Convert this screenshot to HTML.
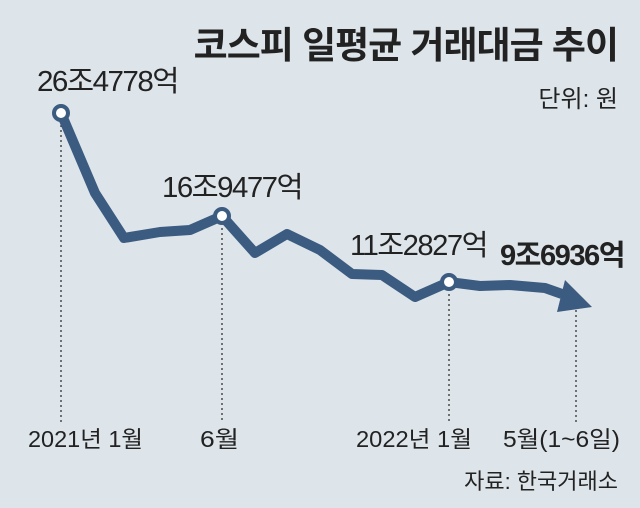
<!DOCTYPE html>
<html><head><meta charset="utf-8"><style>
body{margin:0;background:#dde4ea;}
svg{display:block}
text{font-family:"Liberation Sans","Noto Sans CJK KR",sans-serif;fill:#222}
</style></head><body>
<svg width="640" height="508" viewBox="0 0 640 508">
<rect width="640" height="508" fill="#dde4ea"/>
<text x="618" y="58" text-anchor="end" font-size="37" font-weight="bold" letter-spacing="-1">코스피 일평균 거래대금 추이</text>
<text x="618" y="107" text-anchor="end" font-size="24">단위: 원</text>
<g stroke="#333" stroke-width="1.3" stroke-dasharray="2,3">
<line x1="61" y1="125" x2="61" y2="422"/>
<line x1="222" y1="228" x2="222" y2="422"/>
<line x1="449" y1="294" x2="449" y2="422"/>
<line x1="576" y1="310" x2="576" y2="422"/>
</g>
<polyline points="61,113 95,193 124,238 160,232 190,230 222,216 255,253 287,234 320,250 352,274 382,275 415,297 449,282 480,286 510,285 545,288 562,294" fill="none" stroke="#3b5b80" stroke-width="10" stroke-linejoin="round"/>
<polygon points="565,280 592,307 557,312" fill="#3b5b80"/>
<g fill="#fff" stroke="#3b5b80" stroke-width="4">
<circle cx="61" cy="113" r="7"/><circle cx="222" cy="216" r="7"/><circle cx="449" cy="282" r="7"/>
</g>
<g font-size="29" letter-spacing="-1.5">
<text x="37" y="91" textLength="141" lengthAdjust="spacingAndGlyphs">26조4778억</text>
<text x="162" y="197" textLength="140" lengthAdjust="spacingAndGlyphs">16조9477억</text>
<text x="350" y="255" textLength="137" lengthAdjust="spacingAndGlyphs">11조2827억</text>
<text x="500" y="265" font-weight="bold" textLength="124" lengthAdjust="spacingAndGlyphs">9조6936억</text>
</g>
<g font-size="23">
<text x="28" y="447" textLength="115" lengthAdjust="spacingAndGlyphs">2021년 1월</text>
<text x="200" y="447" textLength="39" lengthAdjust="spacingAndGlyphs">6월</text>
<text x="356" y="447" textLength="116" lengthAdjust="spacingAndGlyphs">2022년 1월</text>
<text x="503" y="447" textLength="117" lengthAdjust="spacingAndGlyphs">5월(1~6일)</text>
</g>
<text x="618" y="489" text-anchor="end" font-size="22">자료: 한국거래소</text>
</svg>
</body></html>
